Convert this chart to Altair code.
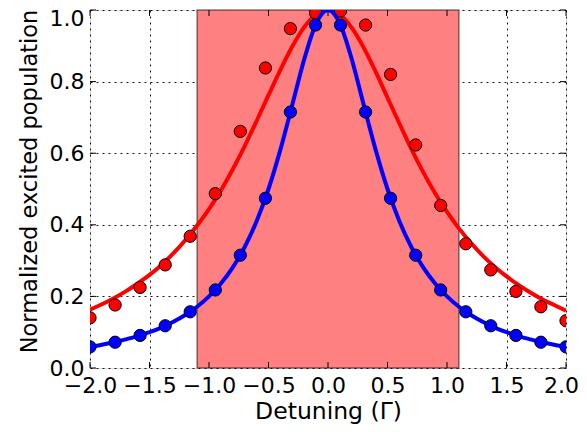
import altair as alt
import pandas as pd

# ---- data ----
pts_x = [-2.0, -1.789, -1.579, -1.368, -1.158, -0.947, -0.737, -0.526, -0.316, -0.105,
         0.105, 0.316, 0.526, 0.737, 0.947, 1.158, 1.368, 1.579, 1.789, 2.0]
blue_pts = [0.059, 0.072, 0.091, 0.118, 0.157, 0.218, 0.315, 0.474, 0.715, 0.958,
            0.958, 0.715, 0.474, 0.315, 0.218, 0.157, 0.118, 0.091, 0.072, 0.059]
red_pts = [0.140, 0.176, 0.225, 0.288, 0.368, 0.487, 0.661, 0.838, 0.948, 0.992,
           0.997, 0.958, 0.820, 0.623, 0.454, 0.347, 0.274, 0.214, 0.171, 0.132]

curve_x = [-2.0, -1.9, -1.8, -1.7, -1.6, -1.5, -1.4, -1.3, -1.2, -1.1, -1.0, -0.9, -0.8,
           -0.7, -0.6, -0.5, -0.4, -0.3, -0.2, -0.1, 0.0, 0.1, 0.2, 0.3, 0.4, 0.5, 0.6,
           0.7, 0.8, 0.9, 1.0, 1.1, 1.2, 1.3, 1.4, 1.5, 1.6, 1.7, 1.8, 1.9, 2.0]
blue_curve = [0.059, 0.065, 0.072, 0.080, 0.089, 0.100, 0.113, 0.129, 0.148, 0.171, 0.200,
              0.236, 0.281, 0.338, 0.410, 0.500, 0.610, 0.735, 0.862, 0.962, 1.000,
              0.962, 0.862, 0.735, 0.610, 0.500, 0.410, 0.338, 0.281, 0.236, 0.200,
              0.171, 0.148, 0.129, 0.113, 0.100, 0.089, 0.080, 0.072, 0.065, 0.059]
red_curve = [0.163, 0.178, 0.195, 0.214, 0.236, 0.260, 0.288, 0.320, 0.357, 0.398, 0.444,
             0.496, 0.555, 0.620, 0.690, 0.762, 0.833, 0.898, 0.952, 0.988, 1.000,
             0.987, 0.950, 0.895, 0.828, 0.755, 0.683, 0.612, 0.547, 0.488, 0.436,
             0.390, 0.350, 0.314, 0.283, 0.256, 0.232, 0.211, 0.192, 0.176, 0.160]

band = [-1.1, 1.1]
x_ticks = [-2.0, -1.5, -1.0, -0.5, 0.0, 0.5, 1.0, 1.5, 2.0]
y_ticks = [0.0, 0.2, 0.4, 0.6, 0.8, 1.0]

W, H = 476, 358
TL = 6

pts = pd.DataFrame({"x": pts_x, "blue": blue_pts, "red": red_pts})
curve = pd.DataFrame({"x": curve_x, "blue": blue_curve, "red": red_curve})
band_df = pd.DataFrame({"x": [band[0]], "x2": [band[1]]})
xt = pd.DataFrame({"x": x_ticks})
yt = pd.DataFrame({"y": y_ticks})

xs = alt.Scale(domain=[-2, 2], nice=False, zero=False)
ys = alt.Scale(domain=[0, 1], nice=False, zero=False)

FONT = "DejaVu Sans"
xaxis = alt.Axis(values=x_ticks, format=".1f", title="Detuning (Γ)", ticks=False,
                 labelFontSize=22, titleFontSize=23.5, labelPadding=7, titlePadding=3,
                 labelColor="black", titleColor="black", labelFont=FONT, titleFont=FONT,
                 titleFontWeight="normal", domain=False, gridColor="black",
                 gridDash=[2, 4], gridWidth=1, gridOpacity=0.9, labelFlush=False,
                 labelOffset={"condition": {"test": "datum.value == 2", "value": -5},
                              "value": 0})
yaxis = alt.Axis(values=y_ticks, format=".1f", title="Normalized excited population",
                 ticks=False, labelFontSize=22, titleFontSize=22.5, labelPadding=6,
                 titlePadding=8, labelColor="black", titleColor="black", labelFont=FONT,
                 titleFont=FONT, titleFontWeight="normal", domain=False,
                 gridColor="black", gridDash=[2, 4], gridWidth=1, gridOpacity=0.9,
                 labelFlush=False, titleY=171,
                 labelOffset={"condition": {"test": "datum.value == 1", "value": 8},
                              "value": 0})

region = alt.Chart(band_df).mark_rect(
    fill="#ff8080", stroke="black", strokeOpacity=0.5, strokeWidth=1.5
).encode(x=alt.X("x:Q", scale=xs, axis=xaxis), x2="x2",
         y=alt.value(0), y2=alt.value(H))

base_axes = alt.Chart(pts).mark_point(opacity=0).encode(
    x=alt.X("x:Q", scale=xs, axis=xaxis), y=alt.Y("blue:Q", scale=ys, axis=yaxis))

def vline(df, y0, y1):
    return alt.Chart(df).mark_rule(color="black", strokeWidth=1).encode(
        x=alt.X("x:Q", scale=xs), y=alt.value(y0), y2=alt.value(y1))

def hline(df, x0, x1):
    return alt.Chart(df).mark_rule(color="black", strokeWidth=1).encode(
        y=alt.Y("y:Q", scale=ys), x=alt.value(x0), x2=alt.value(x1))

ticks = vline(xt, H - TL, H) + vline(xt, 0, TL) + hline(yt, 0, TL) + hline(yt, W - TL, W)

def line(col, color):
    return alt.Chart(curve).mark_line(color=color, strokeWidth=4, clip=True,
                                      interpolate="monotone").encode(
        x=alt.X("x:Q", scale=xs), y=alt.Y(f"{col}:Q", scale=ys))

def dots(col, color):
    return alt.Chart(pts).mark_point(filled=True, fill=color, stroke="black",
                                     strokeWidth=1, size=150, opacity=1,
                                     fillOpacity=1, clip=True, shape="circle").encode(
        x=alt.X("x:Q", scale=xs), y=alt.Y(f"{col}:Q", scale=ys))

chart = alt.layer(
    region, base_axes, ticks,
    line("red", "#ff0000"), dots("red", "#ff0000"),
    line("blue", "#0000ff"), dots("blue", "#0000ff"),
).properties(
    width=W, height=H,
    autosize=alt.AutoSizeParams(type="none"),
    padding={"left": 82, "top": 2, "right": 13, "bottom": 56},
).configure_view(
    stroke="black", strokeWidth=1.5
).configure(background="white")

chart.save("out.html", embed_options={"renderer": "svg", "actions": False})
